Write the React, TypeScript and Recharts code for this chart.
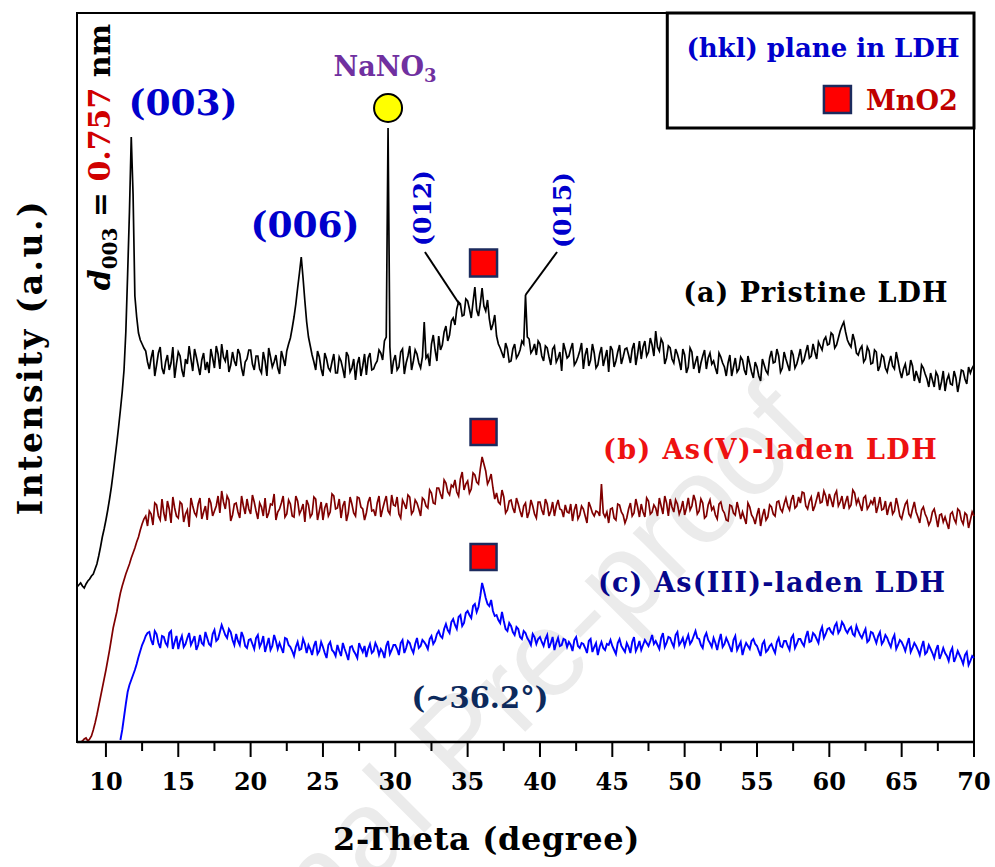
import React from 'react';
import { LineChart, Line, XAxis, YAxis, ReferenceArea, ReferenceDot, ReferenceLine, Label } from 'recharts';

const SERIF = '"DejaVu Serif", "Liberation Serif", serif';

// scans share one 2-theta grid (degrees), one row per degree
const THETA_START = 8;
const THETA_STEP = 0.125;

// (a) pristine LDH
const pristine = [
  155, 157, 159, 156, 154, 158, 161, 163,
  166, 168, 173, 178, 186, 195, 205, 213,
  222, 232, 243, 255, 269, 284, 299, 315,
  332, 350, 372, 410, 468, 530, 605, 548,
  446, 425, 409, 402, 398, 394, 391, 380,
  373, 384, 392, 366, 377, 389, 395, 374,
  368, 380, 387, 372, 379, 395, 364, 378,
  390, 386, 372, 365, 383, 378, 396, 383,
  371, 393, 385, 376, 367, 382, 389, 372,
  380, 369, 393, 384, 374, 396, 388, 373,
  398, 385, 381, 392, 370, 377, 390, 381,
  376, 393, 388, 374, 366, 380, 383, 392,
  392, 378, 372, 386, 386, 373, 369, 390,
  381, 366, 394, 385, 375, 380, 387, 374,
  368, 391, 384, 376, 391, 398, 404, 414,
  425, 438, 454, 469, 485, 464, 441, 420,
  405, 396, 387, 380, 372, 391, 385, 373,
  366, 389, 383, 374, 371, 380, 388, 369,
  369, 385, 381, 373, 364, 390, 386, 370,
  374, 383, 362, 378, 385, 366, 376, 388,
  367, 384, 389, 372, 373, 378, 381, 392,
  389, 382, 401, 405, 614, 395, 368, 381,
  387, 372, 375, 390, 393, 368, 379, 386,
  396, 372, 381, 392, 388, 379, 374, 385,
  420, 384, 387, 376, 398, 407, 392, 381,
  406, 392, 397, 410, 416, 401, 407, 421,
  424, 417, 433, 440, 438, 426, 427, 443,
  441, 433, 424, 440, 455, 432, 426, 438,
  454, 436, 431, 442, 423, 412, 418, 427,
  406, 398, 394, 389, 384, 399, 393, 380,
  381, 393, 398, 384, 387, 392, 401, 398,
  447, 405, 403, 389, 392, 398, 387, 401,
  398, 386, 381, 396, 394, 385, 377, 393,
  396, 380, 384, 390, 371, 399, 392, 384,
  386, 393, 399, 377, 380, 385, 391, 399,
  373, 387, 394, 376, 382, 398, 389, 374,
  377, 388, 395, 376, 384, 392, 370, 396,
  392, 375, 381, 390, 397, 378, 385, 393,
  394, 387, 379, 393, 399, 377, 388, 401,
  383, 395, 401, 386, 390, 404, 397, 386,
  411, 395, 391, 403, 399, 378, 384, 396,
  394, 383, 379, 393, 388, 381, 372, 393,
  387, 369, 375, 394, 390, 373, 380, 386,
  369, 379, 386, 392, 373, 384, 389, 378,
  381, 374, 368, 389, 385, 379, 375, 366,
  379, 387, 366, 375, 384, 370, 373, 385,
  382, 372, 367, 386, 378, 370, 364, 380,
  375, 366, 361, 383, 377, 371, 368, 384,
  391, 379, 380, 393, 386, 370, 374, 390,
  383, 377, 371, 392, 387, 374, 378, 385,
  393, 379, 382, 390, 397, 384, 386, 398,
  390, 383, 400, 396, 392, 402, 405, 397,
  398, 409, 407, 394, 397, 404, 411, 416,
  420, 410, 402, 398, 395, 408, 401, 389,
  387, 393, 396, 380, 383, 395, 391, 378,
  379, 392, 390, 371, 376, 387, 385, 374,
  370, 379, 386, 376, 373, 390, 381, 371,
  364, 373, 378, 367, 368, 382, 376, 361,
  371, 365, 359, 377, 374, 368, 363, 355,
  369, 362, 355, 370, 366, 352, 360, 371,
  351, 362, 367, 358, 357, 371, 364, 350,
  360, 372, 371, 363, 358, 375, 369, 374,
  377,
];

// (b) As(V)-laden LDH
const asVLaden = [
  null, null, 0, 1, 3, 4, 1, 3,
  6, 12, 19, 27, 36, 45, 54, 63,
  72, 82, 92, 103, 114, 122, 130, 140,
  149, 156, 162, 168, 173, 178, 184, 189,
  194, 200, 205, 212, 218, 223, 226, 216,
  231, 228, 217, 239, 237, 226, 222, 243,
  229, 221, 241, 233, 219, 245, 234, 226,
  224, 240, 238, 220, 228, 232, 215, 244,
  236, 229, 226, 238, 244, 223, 230, 236,
  222, 244, 239, 226, 231, 236, 246, 229,
  251, 240, 233, 246, 242, 221, 227, 238,
  239, 230, 224, 246, 236, 228, 243, 233,
  228, 247, 240, 231, 223, 239, 235, 226,
  244, 224, 229, 238, 237, 248, 222, 230,
  233, 239, 246, 225, 228, 242, 238, 226,
  225, 246, 241, 228, 232, 238, 220, 242,
  237, 225, 228, 245, 243, 222, 231, 240,
  222, 234, 239, 226, 230, 248, 246, 233,
  234, 243, 224, 236, 241, 221, 229, 245,
  238, 229, 226, 245, 244, 235, 233, 222,
  229, 240, 245, 231, 232, 226, 239, 246,
  225, 233, 240, 246, 231, 228, 247, 237,
  236, 245, 228, 224, 242, 238, 233, 247,
  245, 228, 231, 242, 239, 233, 226, 244,
  242, 236, 234, 252, 249, 239, 238, 254,
  254, 248, 243, 262, 259, 250, 247, 257,
  255, 262, 250, 246, 263, 270, 252, 258,
  261, 249, 253, 269, 267, 260, 258, 273,
  285, 278, 271, 258, 262, 268, 254, 243,
  249, 240, 238, 252, 245, 229, 232, 241,
  242, 234, 229, 244, 238, 231, 225, 236,
  239, 224, 230, 242, 236, 228, 224, 240,
  240, 232, 227, 243, 238, 226, 231, 240,
  226, 236, 242, 233, 232, 225, 237, 230,
  229, 238, 221, 232, 238, 223, 227, 236,
  233, 226, 219, 240, 235, 229, 226, 231,
  230, 226, 258, 229, 225, 230, 219, 233,
  234, 224, 222, 238, 237, 230, 227, 219,
  224, 233, 239, 226, 229, 243, 235, 225,
  238, 230, 225, 244, 241, 228, 230, 237,
  234, 226, 244, 236, 228, 246, 239, 226,
  243, 235, 230, 242, 238, 228, 233, 241,
  227, 234, 244, 232, 236, 247, 241, 228,
  231, 243, 239, 224, 226, 237, 242, 232,
  235, 227, 223, 238, 240, 232, 229, 222,
  221, 237, 236, 229, 227, 240, 232, 223,
  230, 224, 218, 239, 235, 227, 224, 218,
  227, 234, 216, 226, 233, 222, 225, 237,
  235, 228, 226, 240, 241, 233, 230, 238,
  244, 236, 232, 242, 247, 234, 236, 245,
  239, 250, 249, 236, 233, 241, 245, 231,
  236, 243, 250, 239, 240, 251, 246, 236,
  248, 242, 235, 247, 251, 236, 240, 246,
  233, 240, 246, 234, 237, 252, 249, 238,
  243, 237, 231, 244, 246, 233, 236, 241,
  238, 245, 229, 236, 245, 232, 233, 241,
  227, 235, 240, 228, 231, 244, 236, 226,
  223, 231, 238, 241, 228, 225, 233, 240,
  230, 225, 219, 232, 235, 228, 224, 217,
  221, 230, 233, 225, 215, 227, 228, 220,
  225, 219, 213, 228, 230, 223, 219, 233,
  231, 222, 218, 229, 227, 214, 222, 230,
  226,
];

// (c) As(III)-laden LDH
const asIIILaden = [
  null, null, null, null, null, null, null, null,
  null, null, null, null, null, null, null, null,
  null, null, null, null, null, null, null, null,
  2, 12, 25, 38, 50, 57, 62, 67,
  72, 78, 85, 91, 97, 101, 106, 109,
  110, 102, 97, 111, 108, 99, 94, 106,
  105, 99, 96, 109, 111, 93, 100, 106,
  93, 101, 106, 95, 98, 104, 109, 97,
  101, 106, 92, 97, 107, 99, 97, 110,
  104, 98, 96, 108, 112, 101, 103, 110,
  117, 112, 107, 104, 113, 110, 102, 97,
  108, 101, 97, 110, 105, 96, 94, 102,
  103, 98, 93, 104, 107, 95, 99, 106,
  90, 97, 104, 92, 96, 107, 101, 93,
  99, 94, 89, 104, 103, 97, 95, 91,
  86, 95, 100, 92, 93, 103, 98, 89,
  97, 93, 87, 96, 101, 88, 91, 100,
  95, 89, 84, 97, 100, 92, 90, 86,
  97, 91, 86, 99, 93, 88, 82, 95,
  96, 91, 88, 84, 99, 94, 90, 96,
  85, 93, 98, 89, 91, 99, 95, 87,
  93, 90, 84, 96, 101, 88, 92, 97,
  97, 93, 87, 99, 102, 89, 94, 101,
  99, 93, 89, 98, 104, 94, 96, 102,
  100, 97, 93, 103, 106, 98, 101, 108,
  111, 106, 104, 113, 118, 112, 109, 120,
  123, 117, 113, 125, 127, 116, 119, 129,
  131, 127, 124, 136, 138, 130, 135, 146,
  159, 152, 144, 138, 136, 142, 131, 126,
  127, 122, 119, 130, 121, 113, 111, 119,
  116, 110, 107, 115, 113, 105, 103, 111,
  109, 104, 101, 97, 108, 105, 98, 103,
  105, 100, 96, 103, 107, 94, 99, 105,
  92, 99, 104, 96, 97, 103, 102, 95,
  100, 97, 91, 102, 105, 96, 94, 99,
  98, 94, 89, 101, 103, 90, 95, 99,
  87, 95, 100, 94, 92, 98, 97, 102,
  96, 92, 88, 99, 103, 96, 93, 90,
  99, 95, 89, 100, 105, 91, 95, 101,
  92, 97, 102, 99, 96, 101, 107, 98,
  101, 97, 93, 104, 109, 95, 99, 105,
  104, 99, 95, 107, 110, 97, 100, 104,
  96, 102, 107, 98, 101, 106, 111, 104,
  103, 97, 94, 105, 109, 102, 99, 95,
  104, 99, 92, 101, 108, 95, 98, 104,
  100, 95, 90, 102, 106, 92, 96, 100,
  87, 94, 99, 96, 93, 101, 103, 98,
  96, 91, 86, 98, 101, 90, 92, 96,
  98, 93, 89, 100, 104, 96, 95, 101,
  101, 96, 92, 104, 107, 94, 98, 103,
  103, 99, 96, 105, 111, 100, 101, 109,
  107, 103, 99, 110, 115, 104, 108, 113,
  114, 110, 108, 116, 119, 109, 112, 120,
  117, 112, 109, 113, 115, 108, 106, 116,
  111, 107, 104, 109, 113, 100, 102, 110,
  109, 104, 99, 106, 110, 98, 101, 107,
  104, 99, 95, 103, 107, 93, 97, 102,
  100, 96, 91, 98, 104, 90, 94, 99,
  96, 92, 87, 95, 101, 88, 90, 97,
  93, 89, 84, 92, 97, 83, 88, 94,
  89, 86, 81, 90, 94, 80, 85, 91,
  87, 83, 78, 87, 90, 77, 81, 86,
  84,
];

const xTicks = [10, 12.5, 15, 17.5, 20, 22.5, 25, 27.5, 30, 32.5, 35, 37.5, 40, 42.5, 45, 47.5, 50, 52.5, 55, 57.5, 60, 62.5, 65, 67.5, 70];

const MNO2_PEAK = 36.1;
const NANO3_PEAK = 29.5;

const data = pristine.map((a, i) => ({
  theta: THETA_START + i * THETA_STEP,
  a,
  b: asVLaden[i],
  c: asIIILaden[i],
}));

const AxisTick = (props: any) => {
  const { x, y, payload } = props;
  const major = payload.value % 5 === 0;
  return (
    <g>
      <line x1={x} x2={x} y1={y} y2={y + (major ? 15 : 9)} stroke="#000" strokeWidth={2} />
      {major && (
        <text x={x} y={y + 48} textAnchor="middle" fontFamily={SERIF} fontWeight="bold" fontSize={24} fill="#000">
          {payload.value}
        </text>
      )}
    </g>
  );
};

const square = (size: number) => (p: any) => (
  <rect x={p.cx - size / 2} y={p.cy - size / 2} width={size} height={size} fill="#ff0000" stroke="#1c2b5e" strokeWidth={2.5} />
);

const circle = (r: number) => (p: any) => (
  <circle cx={p.cx} cy={p.cy} r={r} fill="#ffff00" stroke="#000" strokeWidth={2} />
);

// text placed at a data point; rotate = -90 for vertical labels
const note = (content: React.ReactNode, attrs: any, rotate = 0) => (p: any) => (
  <text
    x={p.cx}
    y={p.cy}
    fontFamily={SERIF}
    fontWeight="bold"
    transform={rotate ? `rotate(${rotate} ${p.cx} ${p.cy})` : undefined}
    {...attrs}
  >
    {content}
  </text>
);

const App = () => {
  return (
    <div style={{ position: 'absolute', left: 0, top: 0, width: 995, height: 867, background: '#fff', overflow: 'hidden' }}>
      <svg width={995} height={867} style={{ position: 'absolute', left: 0, top: 0 }}>
        <text
          x={488}
          y={769}
          transform="rotate(-45 488 769)"
          textAnchor="middle"
          fontFamily='"Liberation Sans", Arial, sans-serif'
          fontSize={122}
          fill="#ebebeb"
        >
          Journal Pre-proof
        </text>
      </svg>
      <div style={{ position: 'absolute', left: 0, top: 0 }}>
        <LineChart width={995} height={867} data={data} margin={{ top: 13, right: 21, bottom: 0, left: 0 }}>
          <XAxis
            dataKey="theta"
            type="number"
            domain={[8, 70]}
            ticks={xTicks}
            interval={0}
            tickSize={0}
            tickMargin={0}
            tickLine={false}
            tick={<AxisTick />}
            axisLine={{ stroke: '#000', strokeWidth: 2.5 }}
            height={125}
          >
            <Label
              content={(p: any) => (
                <text
                  x={p.viewBox.x + p.viewBox.width / 2 - 39}
                  y={p.viewBox.y + 108}
                  textAnchor="middle"
                  fontFamily={SERIF}
                  fontWeight="bold"
                  fontSize={32}
                  letterSpacing={0.6}
                  fill="#000"
                >
                  2-Theta (degree)
                </text>
              )}
            />
          </XAxis>
          <YAxis domain={[0, 729]} width={77} tick={false} tickLine={false} axisLine={false}>
            <Label
              content={(p: any) => {
                const cx = p.viewBox.x + 42;
                const cy = p.viewBox.y + 344;
                return (
                  <text
                    x={cx}
                    y={cy}
                    transform={`rotate(-90 ${cx} ${cy})`}
                    textAnchor="middle"
                    fontFamily={SERIF}
                    fontWeight="bold"
                    fontSize={33}
                    letterSpacing={2.5}
                    fill="#000"
                  >
                    Intensity (a.u.)
                  </text>
                );
              }}
            />
          </YAxis>

          <ReferenceArea x1={8} x2={70} y1={0} y2={729} fill="none" stroke="#000" strokeWidth={2} ifOverflow="visible" />
          <ReferenceArea x1={48.8} x2={70} y1={614} y2={729} fill="#fff" fillOpacity={1} stroke="#000" strokeWidth={3} ifOverflow="visible" />

          <Line type="linear" dataKey="a" stroke="#000" strokeWidth={1.7} dot={false} isAnimationActive={false} />
          <Line type="linear" dataKey="b" stroke="#800000" strokeWidth={1.7} dot={false} isAnimationActive={false} />
          <Line type="linear" dataKey="c" stroke="#0000ff" strokeWidth={1.9} dot={false} isAnimationActive={false} />

          <ReferenceLine segment={[{ x: 32.05, y: 490 }, { x: 34.47, y: 437 }]} stroke="#000" strokeWidth={2} />
          <ReferenceLine segment={[{ x: 41.18, y: 490 }, { x: 39.0, y: 447 }]} stroke="#000" strokeWidth={2} />

          <ReferenceDot x={MNO2_PEAK} y={479} shape={square(27)} />
          <ReferenceDot x={MNO2_PEAK} y={310} shape={square(26)} />
          <ReferenceDot x={MNO2_PEAK} y={185} shape={square(26)} />
          <ReferenceDot x={NANO3_PEAK} y={634} shape={circle(14)} />

          <ReferenceDot x={15.33} y={627} shape={note('(003)', { textAnchor: 'middle', fontSize: 36, fill: '#0000cc' })} />
          <ReferenceDot x={23.76} y={505} shape={note('(006)', { textAnchor: 'middle', fontSize: 36, fill: '#0000cc' })} />
          <ReferenceDot
            x={29.29}
            y={666}
            shape={note(
              <>
                <tspan>NaNO</tspan>
                <tspan dy={6} fontSize={18}>3</tspan>
              </>,
              { textAnchor: 'middle', fontSize: 27, fill: '#7030a0' },
            )}
          />
          <ReferenceDot
            x={10.29}
            y={585}
            shape={note(
              <>
                <tspan fontStyle="italic">d</tspan>
                <tspan dy={7} fontSize={20}>003</tspan>
                <tspan dy={-7}> = </tspan>
                <tspan fill="#d00000">0.757</tspan>
                <tspan> nm</tspan>
              </>,
              { textAnchor: 'middle', fontSize: 30, fill: '#000' },
              -90,
            )}
          />
          <ReferenceDot x={32.47} y={534} shape={note('(012)', { textAnchor: 'middle', fontSize: 25, fill: '#0000cc' }, -90)} />
          <ReferenceDot x={42.14} y={532} shape={note('(015)', { textAnchor: 'middle', fontSize: 25, fill: '#0000cc' }, -90)} />

          <ReferenceDot x={49.9} y={440} shape={note('(a) Pristine LDH', { fontSize: 27, letterSpacing: 1, fill: '#000' })} />
          <ReferenceDot x={44.36} y={283} shape={note('(b) As(V)-laden LDH', { fontSize: 27, letterSpacing: 1.4, fill: '#ee1111' })} />
          <ReferenceDot x={44.01} y={150} shape={note('(c) As(III)-laden LDH', { fontSize: 27, letterSpacing: 1.2, fill: '#07078c' })} />
          <ReferenceDot x={35.85} y={34} shape={note('(~36.2°)', { textAnchor: 'middle', fontSize: 29, fill: '#0d2a5c' })} />

          <ReferenceDot x={59.56} y={685} shape={note('(hkl) plane in LDH', { textAnchor: 'middle', fontSize: 26, fill: '#0000cc' })} />
          <ReferenceDot x={60.56} y={642.5} shape={square(27)} />
          <ReferenceDot x={62.53} y={632} shape={note('MnO2', { fontSize: 27, fill: '#c00000' })} />
        </LineChart>
      </div>
    </div>
  );
};

export default App;
